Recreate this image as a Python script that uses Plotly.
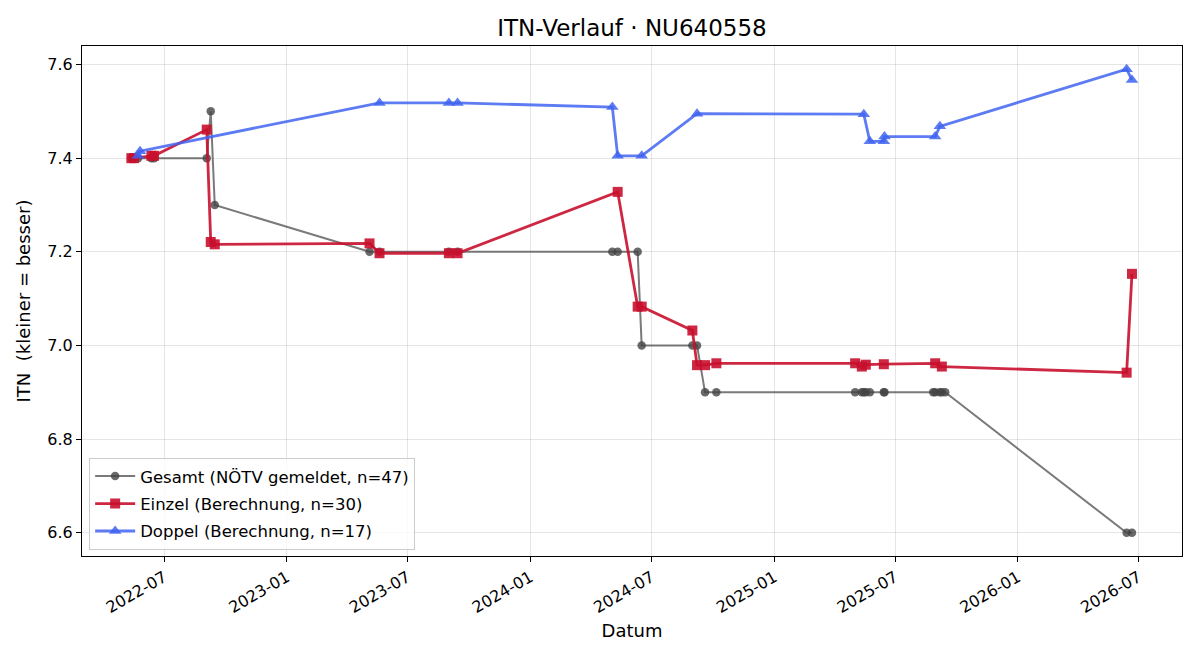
import plotly.graph_objects as go

# ---------------- data ----------------
gesamt_dates = [
    "2022-05-13", "2022-05-17", "2022-05-23", "2022-06-12", "2022-06-16",
    "2022-09-03", "2022-09-09", "2022-09-15",
    "2023-05-05", "2023-05-20", "2023-09-01", "2023-09-14",
    "2024-05-03", "2024-05-11", "2024-06-10", "2024-06-16",
    "2024-08-31", "2024-09-07", "2024-09-19", "2024-10-06",
    "2025-05-02", "2025-05-12", "2025-05-15", "2025-05-18", "2025-05-24",
    "2025-06-14", "2025-06-15",
    "2025-08-27", "2025-08-30", "2025-09-06", "2025-09-09", "2025-09-14",
    "2026-06-13", "2026-06-21",
]
gesamt_vals = [
    7.4, 7.4, 7.4, 7.4, 7.4,
    7.4, 7.5, 7.3,
    7.2, 7.2, 7.2, 7.2,
    7.2, 7.2, 7.2, 7.0,
    7.0, 7.0, 6.9, 6.9,
    6.9, 6.9, 6.9, 6.9, 6.9,
    6.9, 6.9,
    6.9, 6.9, 6.9, 6.9, 6.9,
    6.6, 6.6,
]

einzel_dates = [
    "2022-05-13", "2022-05-17", "2022-06-12", "2022-06-16",
    "2022-09-03", "2022-09-09", "2022-09-15",
    "2023-05-05", "2023-05-20", "2023-09-01", "2023-09-14",
    "2024-05-11", "2024-06-10", "2024-06-16",
    "2024-08-31", "2024-09-07", "2024-09-19", "2024-10-06",
    "2025-05-02", "2025-05-12", "2025-05-18", "2025-06-14",
    "2025-08-30", "2025-09-09",
    "2026-06-13", "2026-06-21",
]
einzel_vals = [
    7.400, 7.400, 7.405, 7.405,
    7.461, 7.221, 7.216,
    7.218, 7.197, 7.197, 7.197,
    7.328, 7.083, 7.083,
    7.032, 6.958, 6.958, 6.962,
    6.962, 6.955, 6.959, 6.960,
    6.962, 6.955,
    6.942, 7.153,
]

doppel_dates = [
    "2022-05-23", "2022-05-26",
    "2023-05-20", "2023-09-01", "2023-09-14",
    "2024-05-03", "2024-05-11", "2024-06-16",
    "2024-09-07",
    "2025-05-15", "2025-05-24", "2025-06-14", "2025-06-15",
    "2025-08-30", "2025-09-06",
    "2026-06-13", "2026-06-21",
]
doppel_vals = [
    7.405, 7.415,
    7.518, 7.518, 7.518,
    7.509, 7.405, 7.405,
    7.495,
    7.494, 7.436, 7.436, 7.446,
    7.446, 7.468,
    7.590, 7.567,
]

names = [
    "Gesamt (NÖTV gemeldet, n=47)",
    "Einzel (Berechnung, n=30)",
    "Doppel (Berechnung, n=17)",
]

FONT = "DejaVu Sans"

fig = go.Figure()
fig.add_trace(go.Scatter(
    x=gesamt_dates, y=gesamt_vals, mode="lines+markers", name=names[0],
    legendgroup="g",
    line=dict(color="rgba(85,85,85,0.78)", width=2),
    marker=dict(symbol="circle", size=8.5, color="rgba(68,68,68,0.8)", line=dict(width=0)),
))
fig.add_trace(go.Scatter(
    x=einzel_dates, y=einzel_vals, mode="lines+markers", name=names[1],
    legendgroup="e",
    line=dict(color="rgba(200,16,46,0.9)", width=2.8),
    marker=dict(symbol="square", size=10, color="rgba(200,16,46,0.9)", line=dict(width=0)),
))
fig.add_trace(go.Scatter(
    x=doppel_dates, y=doppel_vals, mode="lines+markers", name=names[2],
    legendgroup="d",
    line=dict(color="rgba(65,100,240,0.85)", width=2.8),
    marker=dict(symbol="triangle-up", size=11, color="rgba(65,100,240,0.85)", line=dict(width=0)),
))

fig.update_layout(
    width=1200, height=660,
    margin=dict(l=82, r=18, t=46, b=104),
    paper_bgcolor="white", plot_bgcolor="white",
    font=dict(family=FONT, size=16, color="black"),
    title=dict(text="ITN-Verlauf · NU640558", x=0.5, xref="paper", xanchor="center",
               y=1 - 28 / 660, yanchor="middle", font=dict(size=23, family=FONT)),
    showlegend=True,
    legend=dict(x=0.0065, y=0.012, xanchor="left", yanchor="bottom",
                bgcolor="rgba(255,255,255,0.8)", bordercolor="#cccccc", borderwidth=1,
                font=dict(size=16.5, family=FONT), tracegroupgap=3, itemwidth=40),
)

fig.update_xaxes(
    type="date",
    range=["2022-02-28", "2026-09-04"],
    tickformat="%Y-%m", dtick="M6", tick0="2022-01-01",
    tickangle=-30,
    ticks="outside", ticklen=5, tickwidth=1, tickcolor="black",
    showline=True, linecolor="black", linewidth=1, mirror=True,
    showgrid=True, gridcolor="rgba(0,0,0,0.1)", gridwidth=1,
    zeroline=False,
    tickfont=dict(size=16, family=FONT),
    title=dict(text="Datum", font=dict(size=18, family=FONT), standoff=8),
)
fig.update_yaxes(
    range=[6.5505, 7.6395],
    tickvals=[6.6, 6.8, 7.0, 7.2, 7.4, 7.6],
    ticktext=["6.6", "6.8", "7.0", "7.2", "7.4", "7.6"],
    ticks="outside", ticklen=5, tickwidth=1, tickcolor="black",
    showline=True, linecolor="black", linewidth=1, mirror=True,
    showgrid=True, gridcolor="rgba(0,0,0,0.1)", gridwidth=1,
    zeroline=False,
    tickfont=dict(size=16, family=FONT),
    title=dict(text="ITN  (kleiner = besser)", font=dict(size=18, family=FONT), standoff=12),
)

fig.write_html("out.html")
